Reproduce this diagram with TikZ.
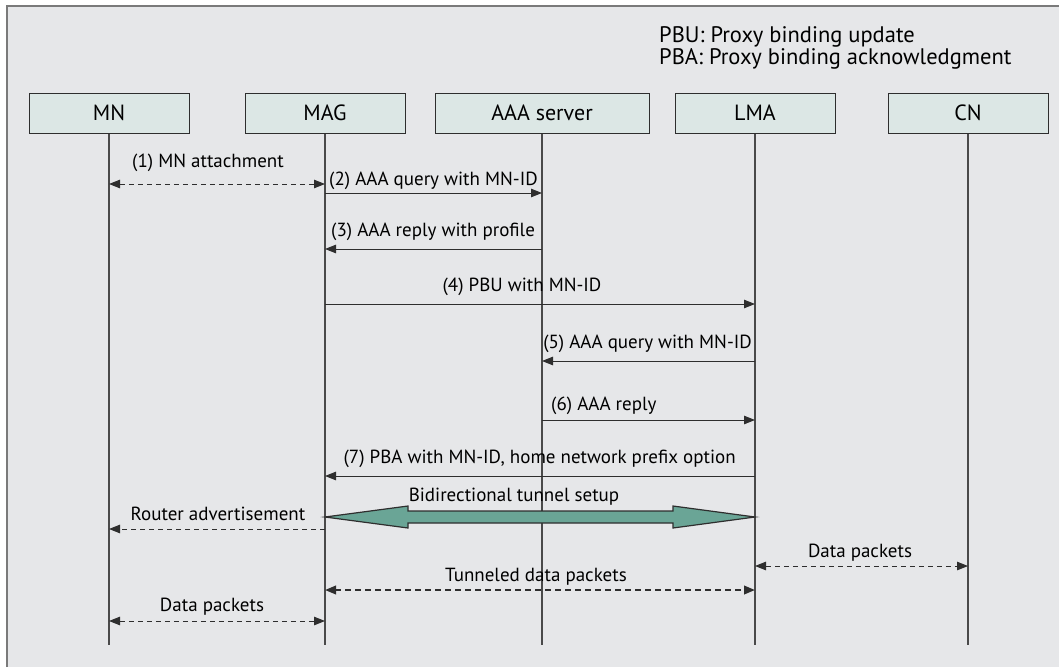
\documentclass[tikz,border=0pt]{standalone}
\usepackage{fontspec}
\setmainfont{PT Sans}
\usetikzlibrary{arrows.meta,calc}
\definecolor{bgc}{HTML}{E6E7E9}
\definecolor{boxc}{HTML}{DCE7E5}
\definecolor{framec}{HTML}{7A7A7A}
\definecolor{linec}{HTML}{2E2E2E}
\definecolor{lifec}{HTML}{4A4A4A}
\definecolor{tealc}{HTML}{6AA596}
\begin{document}
\begin{tikzpicture}[x=1pt,y=-1pt,
  actor/.style={draw=linec, fill=boxc, line width=1pt, minimum height=40pt, inner sep=0pt,
    font=\fontsize{22}{26}\selectfont},
  life/.style={draw=lifec, line width=1.3pt},
  lbl/.style={font=\fontsize{19}{23}\selectfont, inner sep=0pt, text height=13pt, text depth=4pt},
  legend/.style={font=\fontsize{22.5}{26}\selectfont, inner sep=0pt, anchor=west, align=left},
  msg/.style={draw=linec, line width=1pt, -{Triangle[length=11pt,width=8.5pt]}},
  dmsg/.style={draw=linec, line width=1pt, dash pattern=on 5pt off 4pt},
  tmsg/.style={draw=linec, line width=2.2pt, dash pattern=on 6pt off 4pt},
  bigarrow/.style={draw=linec, fill=tealc, line width=1.2pt, line join=miter}
]
\useasboundingbox (0,0) rectangle (1059,667);
% background and frame
\fill[white] (0,0) rectangle (1059,667);
\fill[bgc] (6,6) rectangle (1059,667);
\draw[framec, line width=2.2pt] (7,667) -- (7,6) -- (1059,6);

% legend
\node[legend] (leg) at (659,48) {PBU: Proxy binding update\\[-4pt]PBA: Proxy binding acknowledgment};

% actors
\node[actor, minimum width=160pt] (mn)  at (109,113) {MN};
\node[actor, minimum width=160pt] (mag) at (325,113) {MAG};
\node[actor, minimum width=214pt] (aaa) at (542,113) {AAA server};
\node[actor, minimum width=160pt] (lma) at (755,113) {LMA};
\node[actor, minimum width=160pt] (cn)  at (968,113) {CN};

% lifeline ends
\coordinate (mnE)  at (109,645);
\coordinate (magE) at (325,645);
\coordinate (aaaE) at (542,645);
\coordinate (lmaE) at (755,645);
\coordinate (cnE)  at (968,645);
\draw[life] (mn.south) -- (mnE);
\draw[life] (mag.south) -- (magE);
\draw[life] (aaa.south) -- (aaaE);
\draw[life] (lma.south) -- (lmaE);
\draw[life] (cn.south) -- (cnE);

% message anchor points on lifelines
\coordinate (mn1) at (109,184);  \coordinate (mag1) at (325,184);
\coordinate (mag2) at (325,193); \coordinate (aaa2) at (542,193);
\coordinate (mag3) at (325,249); \coordinate (aaa3) at (542,249);
\coordinate (mag4) at (325,304); \coordinate (lma4) at (755,304);
\coordinate (aaa5) at (542,361); \coordinate (lma5) at (755,361);
\coordinate (aaa6) at (542,420); \coordinate (lma6) at (755,420);
\coordinate (mag7) at (325,476); \coordinate (lma7) at (755,476);
\coordinate (tunL) at (325,517); \coordinate (tunR) at (755,517);
\coordinate (mnR) at (109,529);  \coordinate (magR) at (325,529);
\coordinate (lmaD) at (755,566); \coordinate (cnD) at (968,566);
\coordinate (magT) at (325,590); \coordinate (lmaT) at (755,590);
\coordinate (mnD) at (109,621);  \coordinate (magD) at (325,621);

% messages
\draw[dmsg, {Triangle[length=11pt,width=8.5pt]}-{Triangle[length=11pt,width=8.5pt]}] (mn1) -- (mag1);
\node[lbl] (l1) at (208,163) {(1) MN attachment};

\draw[msg] (mag2) -- (aaa2);
\node[lbl, anchor=west] (l2) at (329,181) {(2) AAA query with MN-ID};

\draw[msg] (aaa3) -- (mag3);
\node[lbl, anchor=west] (l3) at (331,232) {(3) AAA reply with profile};

\draw[msg] (mag4) -- (lma4);
\node[lbl] (l4) at (522,287) {(4) PBU with MN-ID};

\draw[msg] (lma5) -- (aaa5);
\node[lbl, anchor=east] (l5) at (752,344) {(5) AAA query with MN-ID};

\draw[msg] (aaa6) -- (lma6);
\node[lbl, anchor=west] (l6) at (551,406) {(6) AAA reply};

\draw[msg] (lma7) -- (mag7);
\node[lbl, anchor=east] (l7) at (736,459) {(7) PBA with MN-ID, home network prefix option};

% bidirectional tunnel
\draw[bigarrow] (tunL) -- ++(83,-11) -- ++(0,5) -- ($(tunR)+(-82,-6)$) -- ++(0,-5) -- (tunR)
  -- ++(-82,11) -- ++(0,-5) -- ($(tunL)+(83,6)$) -- ++(0,5) -- cycle;
\node[lbl] (lt) at (514,497) {Bidirectional tunnel setup};

\draw[dmsg, -{Triangle[length=11pt,width=8.5pt]}] (magR) -- (mnR);
\node[lbl] (lr) at (218,516) {Router advertisement};

\draw[dmsg, {Triangle[length=11pt,width=8.5pt]}-{Triangle[length=11pt,width=8.5pt]}] (lmaD) -- (cnD);
\node[lbl] (ld1) at (860,553) {Data packets};

\draw[tmsg, {Triangle[length=11pt,width=8.5pt]}-{Triangle[length=11pt,width=8.5pt]}] (magT) -- (lmaT);
\node[lbl] (ltd) at (536,577) {Tunneled data packets};

\draw[dmsg, {Triangle[length=11pt,width=8.5pt]}-{Triangle[length=11pt,width=8.5pt]}] (mnD) -- (magD);
\node[lbl] (ld2) at (212,607) {Data packets};
\end{tikzpicture}
\end{document}
